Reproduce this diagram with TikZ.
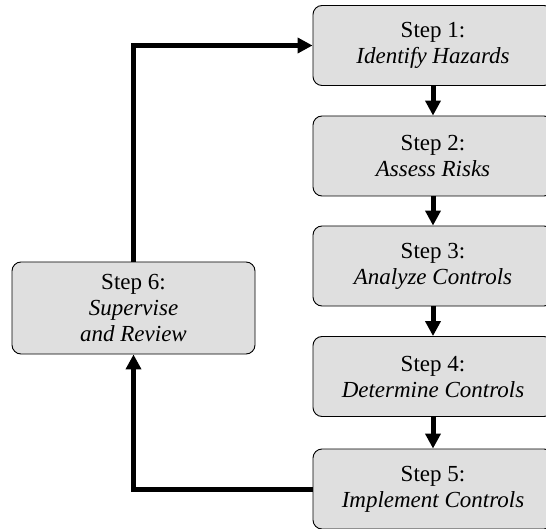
\documentclass[tikz,border=0pt]{standalone}
\usepackage{fontspec}
\setmainfont{Liberation Serif}
\usetikzlibrary{arrows.meta}
\begin{document}
\begin{tikzpicture}[x=1pt,y=-1pt,
  stepbox/.style={draw=black, line width=0.9pt, fill=gray!25!white, rounded corners=9pt,
    minimum width=240pt, minimum height=80pt, align=center, inner sep=0pt,
    font=\fontsize{23}{26}\selectfont},
  flow/.style={line width=5pt, -{Triangle[width=15pt,length=15pt]}}]
\useasboundingbox (0,0) rectangle (546,529);
\clip (0,0) rectangle (546,529);
\fill[white] (0,0) rectangle (546,529);

\node[stepbox] (s1) at (433,45.5)  {Step 1:\\\textit{Identify Hazards}};
\node[stepbox] (s2) at (433,156)   {Step 2:\\\textit{Assess Risks}};
\node[stepbox] (s3) at (433,266)   {Step 3:\\\textit{Analyze Controls}};
\node[stepbox] (s4) at (433,376.5) {Step 4:\\\textit{Determine Controls}};
\node[stepbox] (s5) at (433,489)   {Step 5:\\\textit{Implement Controls}};
\node[stepbox, minimum width=243pt, minimum height=92pt] (s6) at (133.5,308)
  {Step 6:\\\textit{Supervise}\\\textit{and Review}};

\draw[flow] (s1) -- (s2);
\draw[flow] (s2) -- (s3);
\draw[flow] (s3) -- (s4);
\draw[flow] (s4) -- (s5);
\draw[flow] (s6.north) |- (s1.west);
\draw[flow] (s5.west) -| (s6.south);
\end{tikzpicture}
\end{document}
